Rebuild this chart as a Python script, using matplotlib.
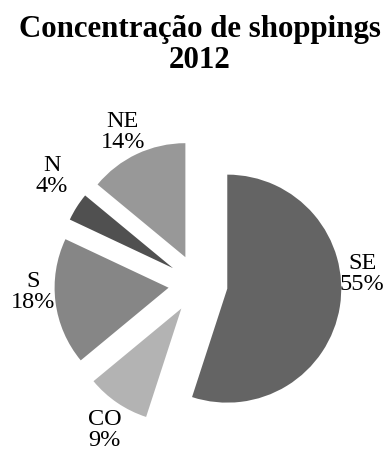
import matplotlib.pyplot as plt
import numpy as np

plt.rcParams["font.family"] = ["Liberation Serif", "DejaVu Serif"]

regions = ["SE", "CO", "S", "N", "NE"]
shares = [55, 9, 18, 4, 14]
colors = ["#646464", "#b3b3b3", "#868686", "#505050", "#989898"]
explode = [0.26, 0.26, 0.26, 0.26, 0.26]

# label centres in data units (radius = 1)
label_pos = [(1.44, 0.10), (-0.82, -1.27), (-1.45, -0.06), (-1.28, 0.96), (-0.66, 1.34)]

W, H = 387, 452
R_PX = 114.0
CX, CY = 198.0, 285.0

fig = plt.figure(figsize=(W / 100, H / 100), dpi=100)
ax = fig.add_axes([0, 0, 1, 1])
ax.pie(shares, colors=colors, explode=explode, startangle=90, counterclock=False,
       radius=1.0, wedgeprops=dict(linewidth=0))
ax.set_xlim(-CX / R_PX, (W - CX) / R_PX)
ax.set_ylim(-(H - CY) / R_PX, CY / R_PX)
ax.set_aspect("equal")
ax.axis("off")

for name, val, (lx, ly) in zip(regions, shares, label_pos):
    ax.text(lx, ly, f"{name}\n{val}%", ha="center", va="center", fontsize=17.5,
            linespacing=1.0, color="black")

fig.text(199.5 / W, 1 - 45 / H, "Concentração de shoppings\n2012", ha="center", va="center",
         fontsize=22.2, fontweight="bold", linespacing=1.05)

fig.savefig("out.png", dpi=100)
